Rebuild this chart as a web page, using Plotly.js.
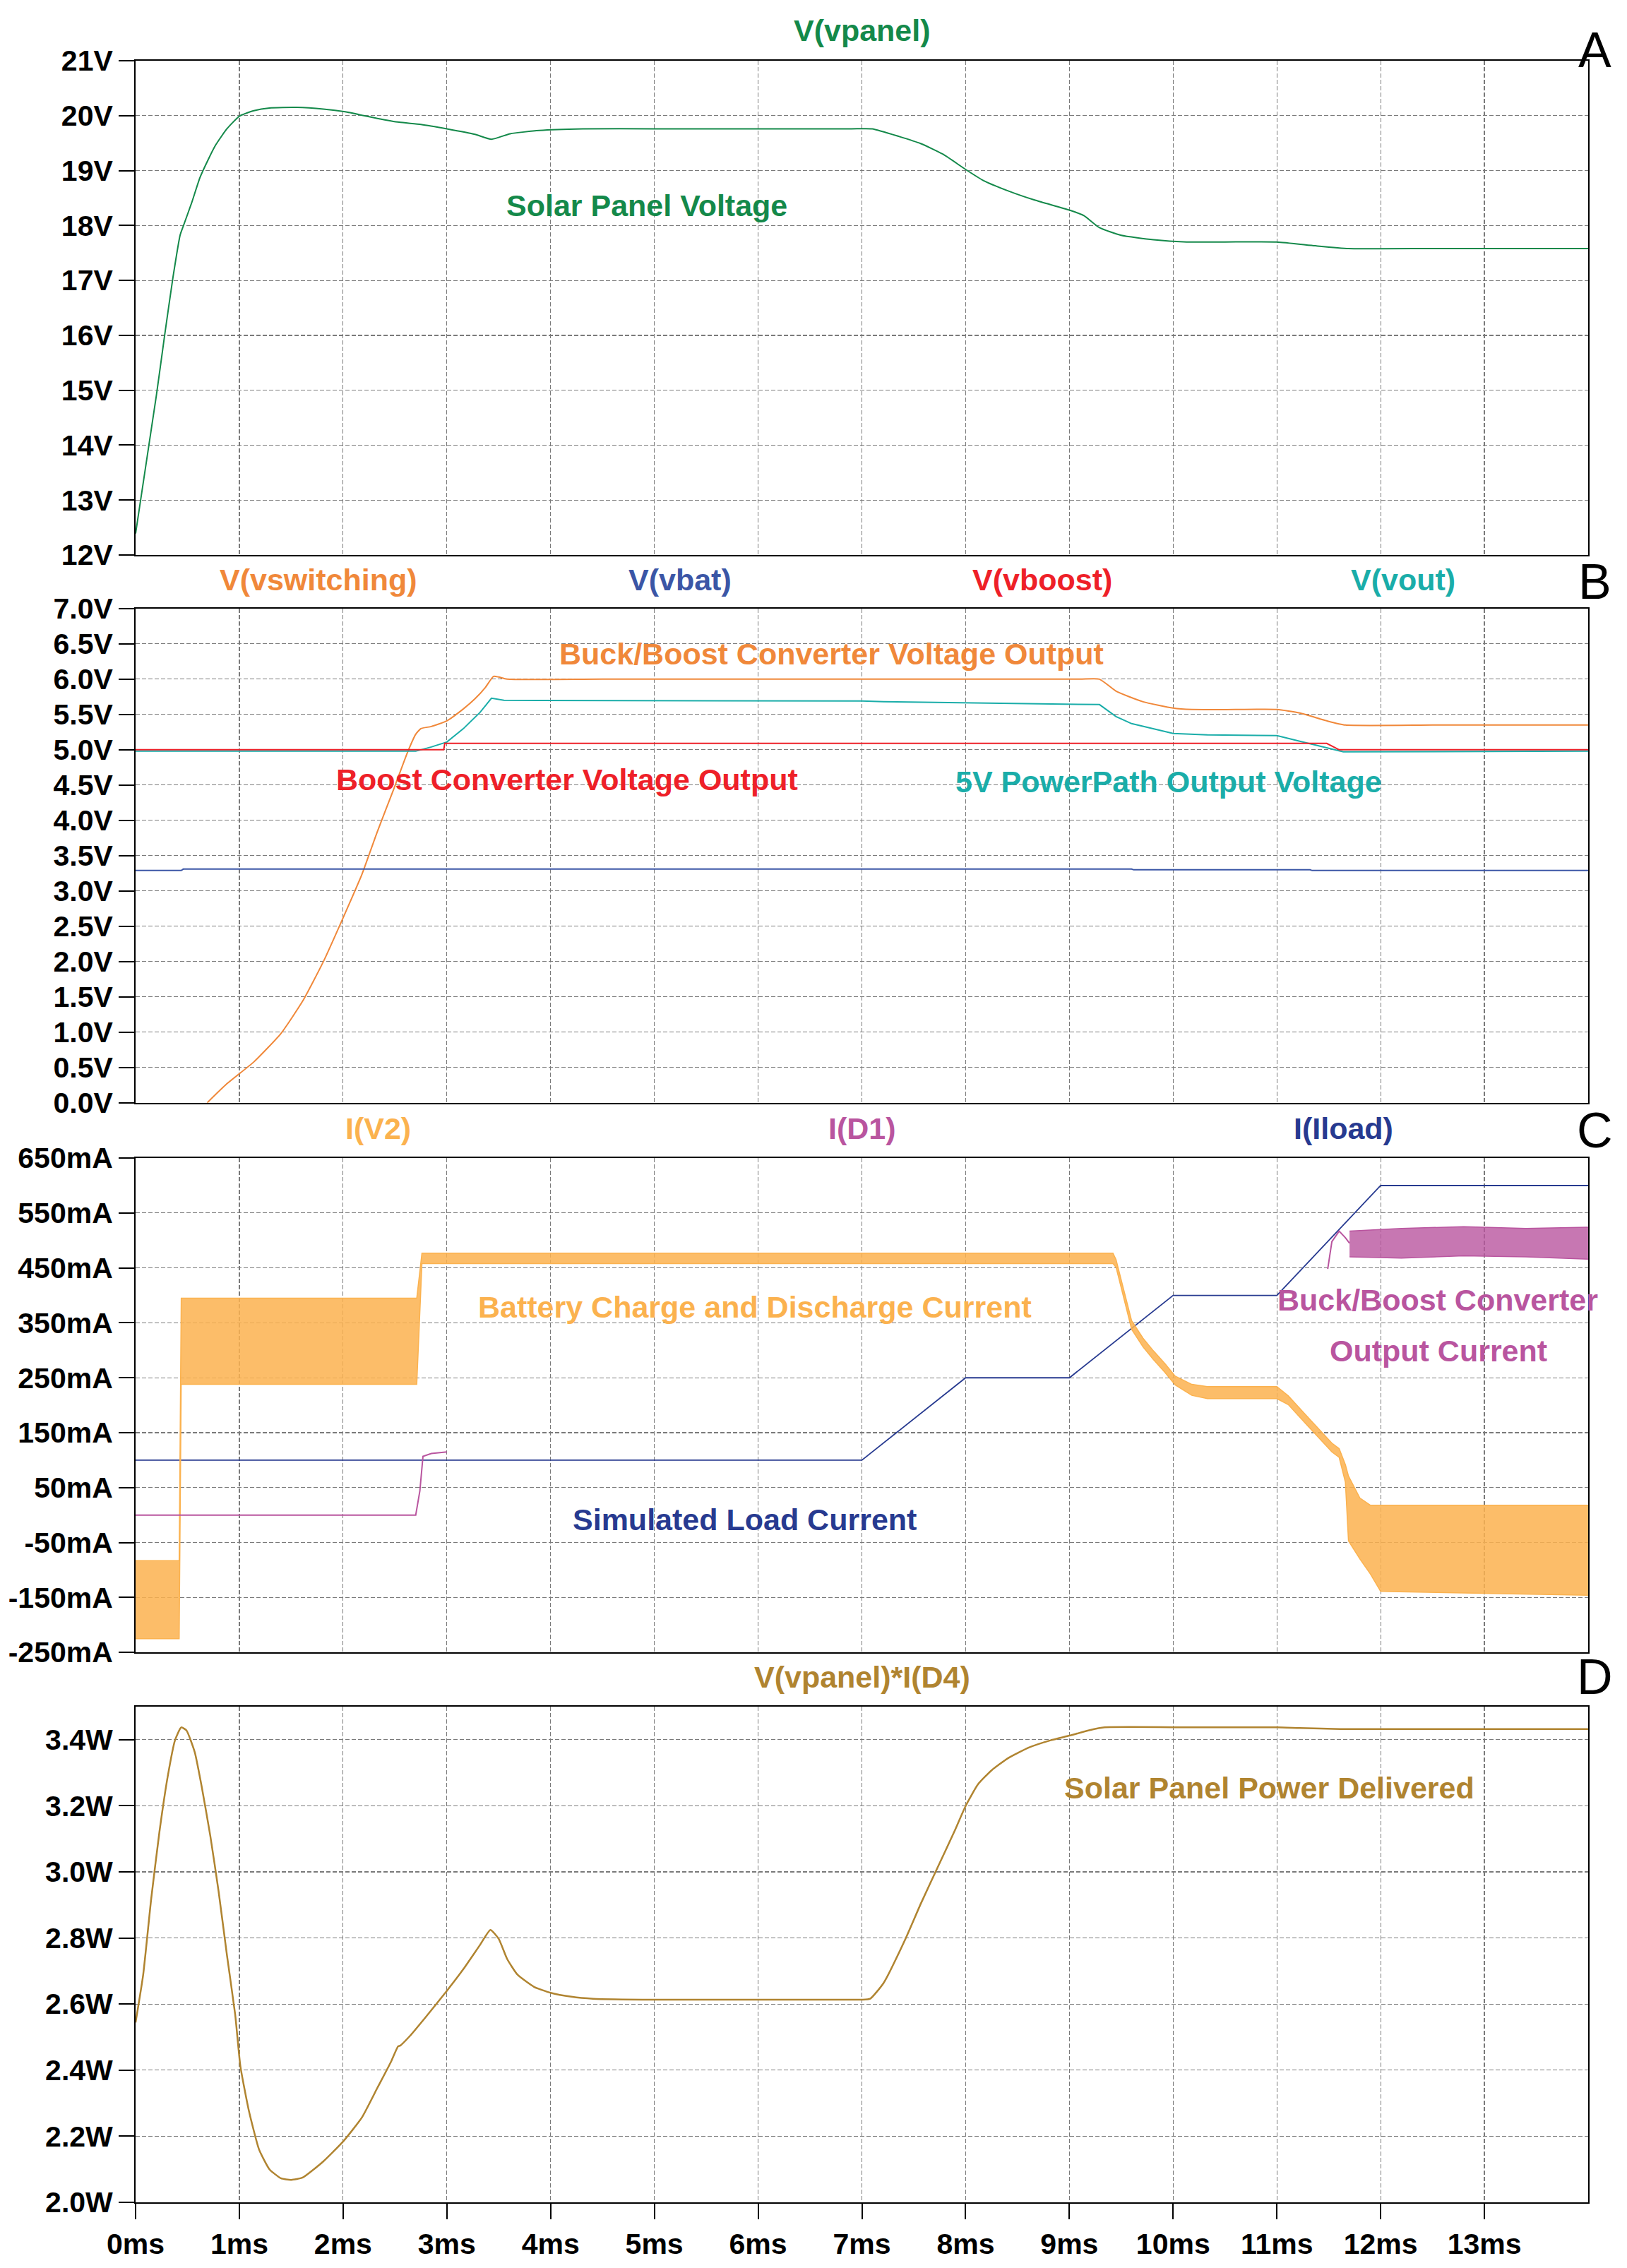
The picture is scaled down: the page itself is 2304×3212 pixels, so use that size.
<!DOCTYPE html>
<html>
<head>
<meta charset="utf-8">
<script src="https://cdn.plot.ly/plotly-3.0.1.min.js"></script>
<style>
  html, body { margin: 0; padding: 0; background: #ffffff; }
  #chart { width: 2304px; height: 3212px; }
</style>
</head>
<body>
<div id="chart"></div>
<script>
// Solar charger transient: four stacked panels sharing a 0..14 ms time axis

// ---- shared time axis ----
const timeTicks = [0, 1, 2, 3, 4, 5, 6, 7, 8, 9, 10, 11, 12, 13];
const timeTickText = ['0ms', '1ms', '2ms', '3ms', '4ms', '5ms', '6ms', '7ms', '8ms', '9ms', '10ms', '11ms', '12ms', '13ms'];

// ---- panel A: V(vpanel) ----
const vpanelT = [0, 0.2, 0.28, 0.36, 0.43, 0.46, 0.54, 0.62, 0.70, 0.77, 0.88, 1.0, 1.14, 1.29, 1.55, 1.81, 2.02, 2.33, 2.54, 2.75, 3.0, 3.27, 3.43, 3.61, 3.89, 4.31, 5.0, 6.0, 6.9, 7.1, 7.36, 7.57, 7.78, 8.0, 8.17, 8.41, 8.67, 9.0, 9.14, 9.29, 9.5, 9.81, 10.13, 10.5, 11.0, 11.37, 11.69, 12.5, 13.3, 14.0];
const vpanelV = [12.39, 14.9, 16.0, 17.05, 17.83, 17.99, 18.41, 18.87, 19.2, 19.46, 19.76, 19.99, 20.09, 20.14, 20.15, 20.12, 20.07, 19.95, 19.88, 19.84, 19.76, 19.66, 19.57, 19.67, 19.73, 19.76, 19.76, 19.76, 19.76, 19.76, 19.62, 19.49, 19.30, 19.02, 18.82, 18.63, 18.46, 18.28, 18.18, 17.96, 17.82, 17.74, 17.70, 17.70, 17.70, 17.63, 17.58, 17.58, 17.58, 17.58];
const voltTicksA = [12, 13, 14, 15, 16, 17, 18, 19, 20, 21];
const voltTextA = ['12V', '13V', '14V', '15V', '16V', '17V', '18V', '19V', '20V', '21V'];

// ---- panel B: converter voltages ----
const vswT = [0.69, 0.88, 1.14, 1.40, 1.61, 1.81, 2.0, 2.18, 2.33, 2.49, 2.62, 2.70, 2.75, 2.85, 3.0, 3.16, 3.27, 3.37, 3.45, 3.50, 3.58, 4.5, 6.0, 7.5, 9.1, 9.29, 9.45, 9.71, 10.0, 10.18, 10.6, 11.0, 11.22, 11.48, 11.66, 12.5, 13.3, 14.0];
const vswV = [0, 0.27, 0.58, 0.98, 1.44, 2.0, 2.62, 3.23, 3.84, 4.45, 4.96, 5.22, 5.30, 5.33, 5.41, 5.58, 5.72, 5.88, 6.04, 6.03, 6.0, 6.0, 6.0, 6.0, 6.0, 6.0, 5.83, 5.68, 5.59, 5.57, 5.57, 5.57, 5.52, 5.41, 5.35, 5.35, 5.35, 5.35];
const vbatT = [0, 0.44, 0.46, 9.6, 9.62, 11.32, 11.34, 14.0];
const vbatV = [3.29, 3.29, 3.31, 3.31, 3.30, 3.30, 3.29, 3.29];
const vboostT = [0, 2.97, 2.98, 11.48, 11.6, 14.0];
const vboostV = [5.0, 5.0, 5.09, 5.09, 5.0, 5.0];
const voutT = [0, 2.7, 2.85, 3.0, 3.16, 3.32, 3.43, 3.55, 7.0, 7.21, 9.29, 9.45, 9.6, 10.0, 10.33, 11.0, 11.22, 11.48, 11.64, 14.0];
const voutV = [4.98, 4.98, 5.04, 5.11, 5.30, 5.53, 5.73, 5.70, 5.69, 5.68, 5.64, 5.47, 5.37, 5.23, 5.21, 5.20, 5.12, 5.03, 4.97, 4.98];
const voltTicksB = [0, 0.5, 1, 1.5, 2, 2.5, 3, 3.5, 4, 4.5, 5, 5.5, 6, 6.5, 7];
const voltTextB = ['0.0V', '0.5V', '1.0V', '1.5V', '2.0V', '2.5V', '3.0V', '3.5V', '4.0V', '4.5V', '5.0V', '5.5V', '6.0V', '6.5V', '7.0V'];

// ---- panel C: currents (mA) ----
// I(V2) is a switching-noise band, kept as its upper and lower envelope
const iv2T = [0, 0.42, 0.44, 2.71, 2.76, 9.42, 9.45, 9.53, 9.6, 9.71, 9.81, 9.92, 10.02, 10.18, 10.33, 11.0, 11.11, 11.27, 11.43, 11.53, 11.6, 11.66, 11.69, 11.8, 11.9, 12.0, 14.0];
const iv2Upper = [-83, -83, 395, 395, 477, 477, 465, 407, 354, 322, 299, 276, 253, 238, 234, 234, 217, 184, 151, 131, 121, 92, 71, 31, 18, 18, 18];
const iv2Lower = [-225, -225, 238, 238, 458, 458, 451, 391, 338, 306, 283, 260, 237, 218, 212, 212, 201, 168, 135, 115, 105, 60, -47, -80, -107, -139, -146];
const id1T = [0, 2.70, 2.74, 2.77, 2.85, 3.0, 3.01, 11.49, 11.53, 11.6, 11.66, 11.7];
const id1V = [0, 0, 44, 107, 112, 115, null, 448, 498, 517, 505, 495];
const id1BandT = [11.7, 12.2, 12.8, 13.4, 14.0];
const id1Upper = [517, 522, 525, 522, 524];
const id1Lower = [470, 468, 472, 470, 466];
const iloadT = [0, 7, 8, 9, 10, 11, 12, 14];
const iloadV = [100, 100, 250, 250, 400, 400, 600, 600];
const currTicks = [-250, -150, -50, 50, 150, 250, 350, 450, 550, 650];
const currText = ['-250mA', '-150mA', '-50mA', '50mA', '150mA', '250mA', '350mA', '450mA', '550mA', '650mA'];

// ---- panel D: V(vpanel)*I(D4) (W) ----
const powerT = [0, 0.073, 0.15, 0.23, 0.31, 0.38, 0.44, 0.49, 0.57, 0.64, 0.72, 0.80, 0.88, 0.96, 1.01, 1.09, 1.19, 1.29, 1.40, 1.50, 1.61, 1.81, 2.0, 2.18, 2.33, 2.46, 2.53, 2.55, 2.64, 2.80, 3.0, 3.16, 3.32, 3.42, 3.50, 3.58, 3.68, 3.84, 4.0, 4.20, 4.41, 5.0, 6.0, 6.9, 7.0, 7.08, 7.21, 7.42, 7.57, 7.73, 7.89, 8.0, 8.12, 8.25, 8.41, 8.61, 8.82, 9.0, 9.19, 9.34, 10.2, 11.0, 11.22, 11.61, 12.8, 14.0];
const powerW = [2.544, 2.688, 2.917, 3.121, 3.289, 3.398, 3.437, 3.428, 3.362, 3.253, 3.109, 2.941, 2.749, 2.568, 2.412, 2.280, 2.160, 2.100, 2.073, 2.068, 2.075, 2.124, 2.184, 2.256, 2.346, 2.424, 2.472, 2.474, 2.502, 2.562, 2.640, 2.706, 2.779, 2.824, 2.797, 2.737, 2.689, 2.652, 2.634, 2.622, 2.616, 2.613, 2.613, 2.613, 2.613, 2.616, 2.664, 2.797, 2.905, 3.013, 3.121, 3.199, 3.265, 3.307, 3.344, 3.376, 3.398, 3.412, 3.428, 3.437, 3.437, 3.437, 3.435, 3.432, 3.432, 3.432];
const powerTicks = [2.0, 2.2, 2.4, 2.6, 2.8, 3.0, 3.2, 3.4];
const powerText = ['2.0W', '2.2W', '2.4W', '2.6W', '2.8W', '3.0W', '3.2W', '3.4W'];

// colours
const C_GREEN = '#14894A';
const C_ORANGE = '#F0883A';
const C_BLUE = '#3B56A6';
const C_RED = '#EE2028';
const C_TEAL = '#1AADA9';
const C_AMBER = '#FBB24F';
const C_PURPLE = '#B9559F';
const C_NAVY = '#273A90';
const C_GOLD = '#B08430';

const FONT = 'Liberation Sans, Arial, Helvetica, sans-serif';

function line(x, y, color, xa, ya, width, smooth) {
    const ln = { color: color, width: width || 2 };
    if (smooth) {
        ln.shape = 'spline';
        ln.smoothing = 0.5;
    }
    return { x: x, y: y, type: 'scatter', mode: 'lines', xaxis: xa, yaxis: ya,
             line: ln, hoverinfo: 'skip', connectgaps: false };
}

const traces = [
    line(vpanelT, vpanelV, C_GREEN, 'x', 'y', 2, true),

    line(vswT, vswV, C_ORANGE, 'x2', 'y2', 2, true),
    line(vbatT, vbatV, C_BLUE, 'x2', 'y2'),
    line(voutT, voutV, C_TEAL, 'x2', 'y2'),
    line(vboostT, vboostV, C_RED, 'x2', 'y2'),

    line(iloadT, iloadV, C_NAVY, 'x3', 'y3', 1.8),
    line(iv2T, iv2Lower, C_AMBER, 'x3', 'y3', 1.5),
    Object.assign(line(iv2T, iv2Upper, C_AMBER, 'x3', 'y3', 1.5), { fill: 'tonexty', fillcolor: 'rgba(251,178,79,0.85)' }),
    line(id1T, id1V, C_PURPLE, 'x3', 'y3'),
    line(id1BandT, id1Lower, C_PURPLE, 'x3', 'y3', 1.5),
    Object.assign(line(id1BandT, id1Upper, C_PURPLE, 'x3', 'y3', 1.5), { fill: 'tonexty', fillcolor: 'rgba(185,85,159,0.8)' }),

    line(powerT, powerW, C_GOLD, 'x4', 'y4', 2.5, true)
];

const tickFont = { family: FONT, size: 41, color: '#000000', weight: 'bold' };

function xAxis(anchor, showLabels) {
    return {
        anchor: anchor, range: [0, 14], tickvals: timeTicks, ticktext: timeTickText,
        showticklabels: showLabels, ticks: showLabels ? 'outside' : '', ticklen: 22, tickwidth: 2, tickcolor: '#000',
        tickfont: tickFont, showgrid: true, gridcolor: '#7a7a7a', gridwidth: 1.2, griddash: '6px,3px',
        zeroline: false, showline: true, mirror: true, linecolor: '#000', linewidth: 2, fixedrange: true
    };
}

function yAxis(anchor, domain, range, vals, text) {
    return {
        anchor: anchor, domain: domain, range: range, tickvals: vals, ticktext: text,
        ticks: 'outside', ticklen: 22, tickwidth: 2, tickcolor: '#000', tickfont: tickFont,
        showgrid: true, gridcolor: '#7a7a7a', gridwidth: 1.2, griddash: '6px,3px',
        zeroline: false, showline: true, mirror: true, linecolor: '#000', linewidth: 2, fixedrange: true
    };
}

function label(text, x, y, color, xref, yref, size, weight) {
    return { text: text, x: x, y: y, xref: xref, yref: yref, showarrow: false,
             xanchor: 'center', yanchor: 'middle',
             font: { family: FONT, size: size || 43, color: color, weight: weight || 'bold' } };
}

const annotations = [
    // trace names above each panel
    label('V(vpanel)', 7.0, 1.0142, C_GREEN, 'x', 'paper'),
    label('V(vswitching)', 1.76, 0.7577, C_ORANGE, 'x2', 'paper'),
    label('V(vbat)', 5.25, 0.7577, C_BLUE, 'x2', 'paper'),
    label('V(vboost)', 8.74, 0.7577, C_RED, 'x2', 'paper'),
    label('V(vout)', 12.22, 0.7577, C_TEAL, 'x2', 'paper'),
    label('I(V2)', 2.34, 0.5015, C_AMBER, 'x3', 'paper'),
    label('I(D1)', 7.0, 0.5015, C_PURPLE, 'x3', 'paper'),
    label('I(Iload)', 11.64, 0.5015, C_NAVY, 'x3', 'paper'),
    label('V(vpanel)*I(D4)', 7.0, 0.2453, C_GOLD, 'x4', 'paper'),

    // panel letters
    label('A', 1.0044, 1.005, '#000', 'paper', 'paper', 70, 'normal'),
    label('B', 1.0044, 0.7567, '#000', 'paper', 'paper', 70, 'normal'),
    label('C', 1.0044, 0.5005, '#000', 'paper', 'paper', 70, 'normal'),
    label('D', 1.0044, 0.2453, '#000', 'paper', 'paper', 70, 'normal'),

    // in-plot captions
    label('Solar Panel Voltage', 4.93, 18.37, C_GREEN, 'x', 'y'),
    label('Buck/Boost Converter Voltage Output', 6.71, 6.36, C_ORANGE, 'x2', 'y2'),
    label('Boost Converter Voltage Output', 4.16, 4.58, C_RED, 'x2', 'y2'),
    label('5V PowerPath Output Voltage', 9.96, 4.55, C_TEAL, 'x2', 'y2'),
    label('Battery Charge and Discharge Current', 5.97, 379, C_AMBER, 'x3', 'y3'),
    label('Simulated Load Current', 5.87, -8, C_NAVY, 'x3', 'y3'),
    label('Buck/Boost Converter', 12.55, 392, C_PURPLE, 'x3', 'y3'),
    label('Output Current', 12.56, 299, C_PURPLE, 'x3', 'y3'),
    label('Solar Panel Power Delivered', 10.93, 3.254, C_GOLD, 'x4', 'y4')
];

const layout = {
    width: 2304,
    height: 3212,
    margin: { l: 192, r: 55, t: 86, b: 93 },
    paper_bgcolor: '#ffffff',
    plot_bgcolor: '#ffffff',
    showlegend: false,
    font: { family: FONT },
    xaxis: xAxis('y', false),
    xaxis2: xAxis('y2', false),
    xaxis3: xAxis('y3', false),
    xaxis4: xAxis('y4', true),
    yaxis: yAxis('x', [0.7692, 1.0], [12, 21], voltTicksA, voltTextA),
    yaxis2: yAxis('x2', [0.5134, 0.7442], [0, 7], voltTicksB, voltTextB),
    yaxis3: yAxis('x3', [0.2568, 0.4876], [-250, 650], currTicks, currText),
    yaxis4: yAxis('x4', [0.0, 0.2315], [2.0, 3.5], powerTicks, powerText),
    annotations: annotations
};

Plotly.newPlot('chart', traces, layout, { staticPlot: true, displayModeBar: false });
</script>
</body>
</html>
